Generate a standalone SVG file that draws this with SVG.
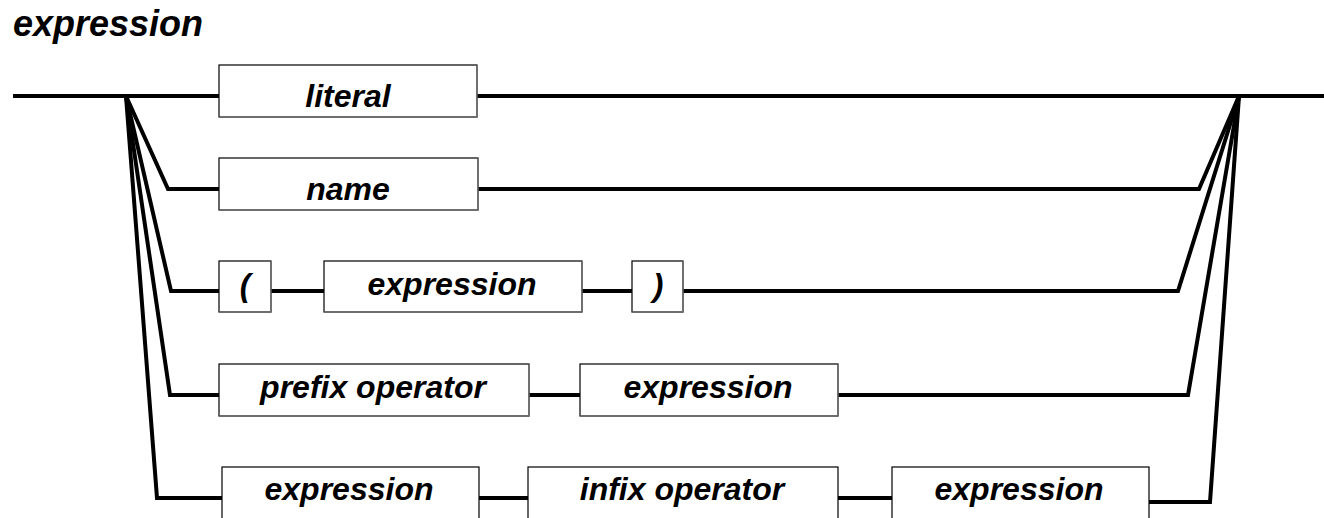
<svg xmlns="http://www.w3.org/2000/svg" width="1324" height="518" viewBox="0 0 1324 518">
<style>
.box{fill:#fff;stroke:#000;stroke-width:1.2}
.sh{fill:none;stroke:#777;stroke-width:1.2}
.t{font-family:"Liberation Sans",Arial,sans-serif;font-weight:bold;font-style:italic;font-size:32px;text-anchor:middle;fill:#000}
.title{font-family:"Liberation Sans",Arial,sans-serif;font-weight:bold;font-style:italic;font-size:36px;fill:#000}
.c{fill:none;stroke:#000;stroke-width:4;stroke-linejoin:miter;stroke-linecap:butt}
</style>
<rect width="1324" height="518" fill="#fff"/>
<text class="title" x="13" y="36">expression</text>
<g id="connectors">
<path class="c" d="M13 96H219"/>
<path class="c" d="M477 96H1324"/>
<path class="c" d="M126 96L168 189H219"/>
<path class="c" d="M126 96L171 291H219"/>
<path class="c" d="M126 96L170 395H219"/>
<path class="c" d="M126 96L157 498H222"/>
<path class="c" d="M478 189H1199L1239 96"/>
<path class="c" d="M271 291H324"/>
<path class="c" d="M582 291H632"/>
<path class="c" d="M683 291H1178L1239 96"/>
<path class="c" d="M529 395H580"/>
<path class="c" d="M838 395H1188L1239 96"/>
<path class="c" d="M479 498H528"/>
<path class="c" d="M838 498H892"/>
<path class="c" d="M1149 502H1210L1239 96"/>
</g>
<g id="literal"><rect class="box" x="219" y="65" width="258" height="52"/><path class="sh" d="M477 65V117H219"/><text class="t" x="348" y="107">literal</text></g>
<g id="name"><rect class="box" x="219" y="158" width="259" height="52"/><path class="sh" d="M478 158V210H219"/><text class="t" x="348" y="200">name</text></g>
<g id="lparen"><rect class="box" x="219" y="261" width="52" height="51"/><path class="sh" d="M271 261V312H219"/><text class="t" x="245" y="296">(</text></g>
<g id="expr1"><rect class="box" x="324" y="261" width="258" height="51"/><path class="sh" d="M582 261V312H324"/><text class="t" x="452" y="295">expression</text></g>
<g id="rparen"><rect class="box" x="632" y="261" width="51" height="51"/><path class="sh" d="M683 261V312H632"/><text class="t" x="658" y="296">)</text></g>
<g id="prefix"><rect class="box" x="219" y="364" width="310" height="52"/><path class="sh" d="M529 364V416H219"/><text class="t" x="373" y="398">prefix operator</text></g>
<g id="expr2"><rect class="box" x="580" y="364" width="258" height="52"/><path class="sh" d="M838 364V416H580"/><text class="t" x="708" y="398">expression</text></g>
<g id="expr3"><rect class="box" x="222" y="467" width="257" height="60"/><text class="t" x="349" y="500">expression</text></g>
<g id="infix"><rect class="box" x="528" y="467" width="310" height="60"/><text class="t" x="682" y="500">infix operator</text></g>
<g id="expr4"><rect class="box" x="892" y="467" width="257" height="60"/><text class="t" x="1019" y="500">expression</text></g>
</svg>
